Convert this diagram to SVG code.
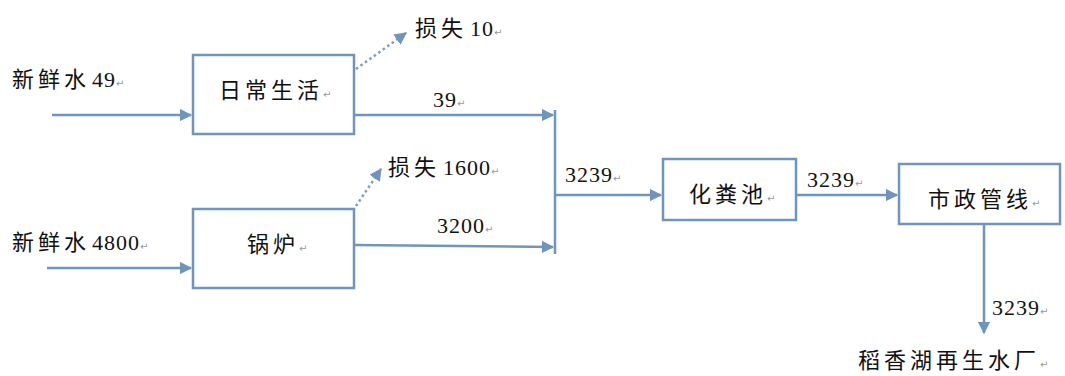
<svg xmlns="http://www.w3.org/2000/svg" width="1065" height="376" viewBox="0 0 1065 376">
<defs>
<style>
.box{fill:#fff;stroke:#6f95bd;stroke-width:2.5}
.ln{fill:none;stroke:#6f95bd;stroke-width:2.5}
.dot{fill:none;stroke:#7c9cc0;stroke-width:2.5;stroke-dasharray:2.5 3}
.t{font-family:"Liberation Serif","Noto Sans CJK SC",serif;font-size:22px;fill:#111}
.c{font-family:"Noto Sans CJK SC",sans-serif;letter-spacing:4px}
.n{font-family:"Liberation Serif",serif;font-size:22px;letter-spacing:1px}
.r{font-family:"DejaVu Sans",sans-serif;font-size:10px;fill:#999;letter-spacing:0}
</style>
<marker id="ah" viewBox="0 0 10 10" refX="9" refY="5" markerWidth="5" markerHeight="5" markerUnits="strokeWidth" orient="auto">
<path d="M0,0 L10,5 L0,10 z" fill="#6f95bd"/>
</marker>
</defs>
<g id="connectors">
<line class="ln" x1="52" y1="115" x2="191" y2="115" marker-end="url(#ah)"/>
<line class="ln" x1="47" y1="268" x2="191" y2="268" marker-end="url(#ah)"/>
<line class="dot" x1="356" y1="69" x2="406" y2="33" marker-end="url(#ah)"/>
<line class="dot" x1="356" y1="206" x2="381" y2="169" marker-end="url(#ah)"/>
<line class="ln" x1="355" y1="115" x2="553" y2="115" marker-end="url(#ah)"/>
<line class="ln" x1="355" y1="245" x2="553" y2="247" marker-end="url(#ah)"/>
<line class="ln" x1="555" y1="110" x2="555" y2="254"/>
<line class="ln" x1="555" y1="195" x2="661" y2="195" marker-end="url(#ah)"/>
<line class="ln" x1="797" y1="195" x2="897" y2="195" marker-end="url(#ah)"/>
<line class="ln" x1="984" y1="224" x2="984" y2="333" marker-end="url(#ah)"/>
</g>
<g id="node-richang">
<rect class="box" x="193" y="55" width="161" height="79"/>
<text class="t" x="219" y="98"><tspan class="c">日常生活</tspan><tspan class="r">↵</tspan></text>
</g>
<g id="node-guolu">
<rect class="box" x="193" y="209" width="161" height="79"/>
<text class="t" x="247" y="252"><tspan class="c">锅炉</tspan><tspan class="r">↵</tspan></text>
</g>
<g id="node-huafenchi">
<rect class="box" x="663" y="159" width="133" height="61"/>
<text class="t" x="689" y="202"><tspan class="c">化粪池</tspan><tspan class="r">↵</tspan></text>
</g>
<g id="node-shizheng">
<rect class="box" x="899" y="164" width="161" height="60"/>
<text class="t" x="928" y="207"><tspan class="c">市政管线</tspan><tspan class="r">↵</tspan></text>
</g>
<g id="labels">
<text class="t" x="12" y="87"><tspan class="c">新鲜水</tspan><tspan class="n" dx="2">49</tspan><tspan class="r">↵</tspan></text>
<text class="t" x="12" y="250"><tspan class="c">新鲜水</tspan><tspan class="n" dx="2">4800</tspan><tspan class="r">↵</tspan></text>
<text class="t" x="415" y="36"><tspan class="c">损失</tspan><tspan class="n" dx="3">10</tspan><tspan class="r">↵</tspan></text>
<text class="t" x="388" y="175"><tspan class="c">损失</tspan><tspan class="n" dx="3">1600</tspan><tspan class="r">↵</tspan></text>
<text class="t" x="433" y="107"><tspan class="n">39</tspan><tspan class="r">↵</tspan></text>
<text class="t" x="437" y="233"><tspan class="n">3200</tspan><tspan class="r">↵</tspan></text>
<text class="t" x="565" y="182"><tspan class="n">3239</tspan><tspan class="r">↵</tspan></text>
<text class="t" x="807" y="187"><tspan class="n">3239</tspan><tspan class="r">↵</tspan></text>
<text class="t" x="992" y="315"><tspan class="n">3239</tspan><tspan class="r">↵</tspan></text>
<text class="t" x="858" y="368"><tspan class="c">稻香湖再生水厂</tspan><tspan class="r">↵</tspan></text>
</g>
</svg>
